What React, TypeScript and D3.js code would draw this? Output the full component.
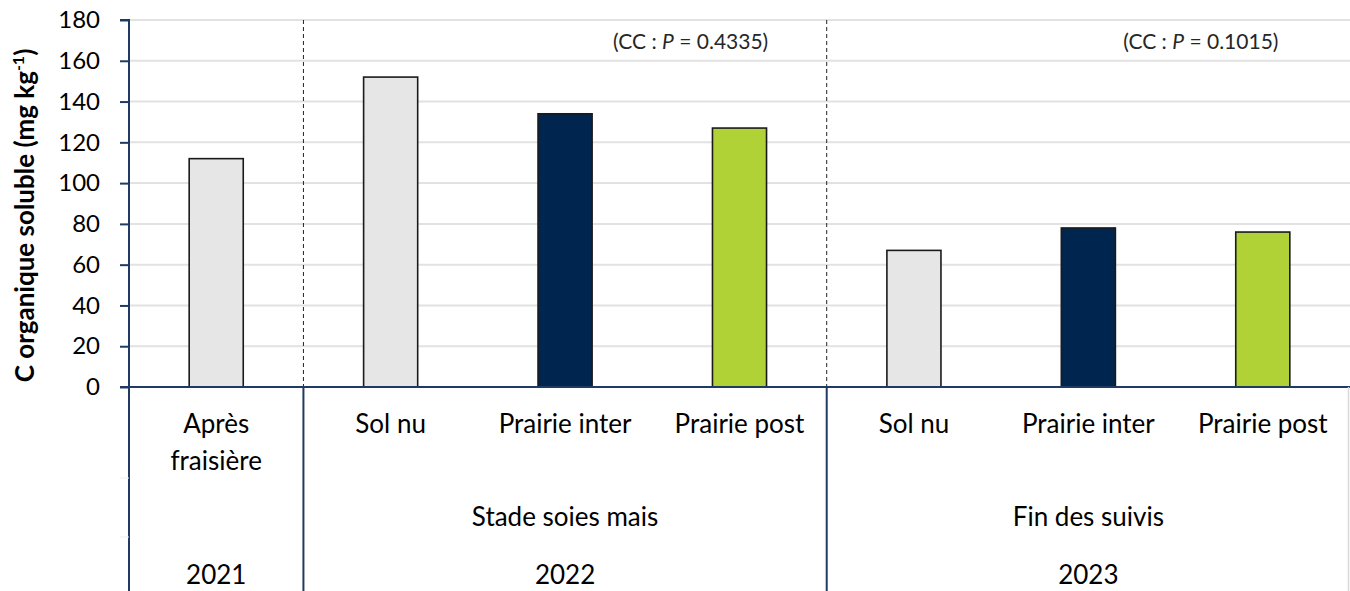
import React, { useEffect, useRef } from 'react';
import * as d3 from 'd3';

const categories = ['Après fraisière', 'Sol nu', 'Prairie inter', 'Prairie post', 'Sol nu ', 'Prairie inter ', 'Prairie post '];
const values = [112, 152, 134, 127, 67, 78, 76];
const treatments = ['sol', 'sol', 'inter', 'post', 'sol', 'inter', 'post'];
const stageLabels = ['', 'Stade soies mais', 'Fin des suivis'];
const yearLabels = ['2021', '2022', '2023'];
const groupSizes = [1, 3, 3];
const pValues = ['', '0.4335', '0.1015'];
const yTicks = [0, 20, 40, 60, 80, 100, 120, 140, 160, 180];

const colorOf: Record<string, string> = {
  sol: '#e6e6e6',
  inter: '#00264f',
  post: '#b0d236',
};

const W = 1350;
const H = 591;
const FONT = 'Lato, "Open Sans", sans-serif';

const App = () => {
  const svgRef = useRef<SVGSVGElement>(null);

  useEffect(() => {
    document.body.style.margin = '0';
    const svg = d3.select(svgRef.current);
    svg.selectAll('*').remove();
    const margin = { top: 20, right: 0, bottom: 204, left: 129 };

    const x = d3.scaleBand()
      .domain(categories)
      .range([margin.left, W - margin.right])
      .paddingInner(0.69)
      .paddingOuter(0.345);

    const y = d3.scaleLinear()
      .domain([0, 180])
      .range([H - margin.bottom, margin.top]);

    const axisColor = '#1f3a63';
    const step = x.step();
    const x0 = margin.left;

    svg.append('rect').attr('width', W).attr('height', H).attr('fill', 'white');

    // gridlines
    svg.selectAll('line.grid')
      .data(yTicks.filter(d => d > 0))
      .enter()
      .append('line')
      .attr('x1', x0)
      .attr('x2', W)
      .attr('y1', d => y(d))
      .attr('y2', d => y(d))
      .attr('stroke', '#e2e2e2')
      .attr('stroke-width', 2);

    // group boundaries (cumulative)
    const bounds: number[] = [0];
    groupSizes.forEach(s => bounds.push(bounds[bounds.length - 1] + s));

    // dashed separators in plot area
    svg.selectAll('line.sep')
      .data(bounds.slice(1, -1))
      .enter()
      .append('line')
      .attr('x1', d => x0 + d * step)
      .attr('x2', d => x0 + d * step)
      .attr('y1', y(180))
      .attr('y2', y(0))
      .attr('stroke', '#222')
      .attr('stroke-width', 1)
      .attr('stroke-dasharray', '4,3');

    // bars
    svg.selectAll('rect.bar')
      .data(values)
      .enter()
      .append('rect')
      .attr('x', (d, i) => x(categories[i])!)
      .attr('y', d => y(d))
      .attr('width', x.bandwidth())
      .attr('height', d => y(0) - y(d))
      .attr('fill', (d, i) => colorOf[treatments[i]])
      .attr('stroke', '#1a1a1a')
      .attr('stroke-width', 1.6);

    // y axis
    const yAxis = d3.axisLeft(y).tickValues(yTicks).tickSize(9).tickPadding(20);
    const gy = svg.append('g')
      .attr('transform', `translate(${x0}, 0)`)
      .call(yAxis);
    gy.select('.domain').attr('stroke', axisColor).attr('stroke-width', 2).attr('d', `M-9,${y(180)}H0V${y(0)}`);
    gy.selectAll('.tick line').attr('stroke', axisColor).attr('stroke-width', 2);
    gy.selectAll('.tick text')
      .attr('font-family', FONT)
      .attr('font-size', 24)
      .attr('fill', '#000');

    // baseline
    svg.append('line')
      .attr('x1', x0 - 9)
      .attr('x2', W)
      .attr('y1', y(0))
      .attr('y2', y(0))
      .attr('stroke', axisColor)
      .attr('stroke-width', 2);

    // category axis vertical dividers
    svg.selectAll('line.cat')
      .data(bounds.slice(0, -1))
      .enter()
      .append('line')
      .attr('x1', d => x0 + d * step)
      .attr('x2', d => x0 + d * step)
      .attr('y1', y(0))
      .attr('y2', H)
      .attr('stroke', axisColor)
      .attr('stroke-width', 2);

    // faint right border and level separators
    svg.append('line')
      .attr('x1', W - 1.5).attr('x2', W - 1.5)
      .attr('y1', y(0)).attr('y2', H)
      .attr('stroke', '#d9d9d9').attr('stroke-width', 1.5);
    svg.selectAll('line.lvl')
      .data([478, 537])
      .enter()
      .append('line')
      .attr('x1', x0 - 9).attr('x2', x0)
      .attr('y1', d => d).attr('y2', d => d)
      .attr('stroke', '#eeeeee').attr('stroke-width', 1);

    // category labels (level 1)
    const catG = svg.append('g')
      .attr('font-family', FONT)
      .attr('font-size', 26)
      .attr('fill', '#000')
      .attr('text-anchor', 'middle');

    categories.forEach((c, i) => {
      const cx = x(c)! + x.bandwidth() / 2;
      const name = c.trim();
      if (name === 'Après fraisière') {
        catG.append('text').attr('x', cx).attr('y', 433).text('Après');
        catG.append('text').attr('x', cx).attr('y', 470).text('fraisière');
      } else {
        catG.append('text').attr('x', cx).attr('y', 433).text(name);
      }
    });

    // level 2 and 3 labels
    groupSizes.forEach((s, gi) => {
      const cx = x0 + (bounds[gi] + s / 2) * step;
      if (stageLabels[gi]) {
        catG.append('text').attr('x', cx).attr('y', 526).text(stageLabels[gi]);
      }
      catG.append('text').attr('x', cx).attr('y', 584).text(yearLabels[gi]);
    });

    // p-value annotations
    const annotFrac = [0, 0.74, 0.715];
    groupSizes.forEach((s, gi) => {
      if (!pValues[gi]) return;
      const cx = x0 + (bounds[gi] + s * annotFrac[gi]) * step;
      const t = svg.append('text')
        .attr('x', cx)
        .attr('y', 49)
        .attr('font-family', FONT)
        .attr('font-size', 21)
        .attr('fill', '#262626')
        .attr('text-anchor', 'middle');
      t.append('tspan').text('(CC : ');
      t.append('tspan').attr('font-style', 'italic').text('P');
      t.append('tspan').text(` = ${pValues[gi]})`);
    });

    // y title
    const title = svg.append('text')
      .attr('transform', `translate(34, ${(y(0) + y(180)) / 2 + 12}) rotate(-90)`)
      .attr('text-anchor', 'middle')
      .attr('font-family', FONT)
      .attr('font-size', 26)
      .attr('font-weight', 'bold')
      .attr('fill', '#000');
    title.append('tspan').text('C organique soluble (mg kg');
    title.append('tspan').attr('font-size', 16).attr('dy', -10).text('-1');
    title.append('tspan').attr('dy', 10).text(')');
  }, []);

  return (
    <svg ref={svgRef} width={W} height={H} style={{ display: 'block' }}></svg>
  );
};

export default App;
